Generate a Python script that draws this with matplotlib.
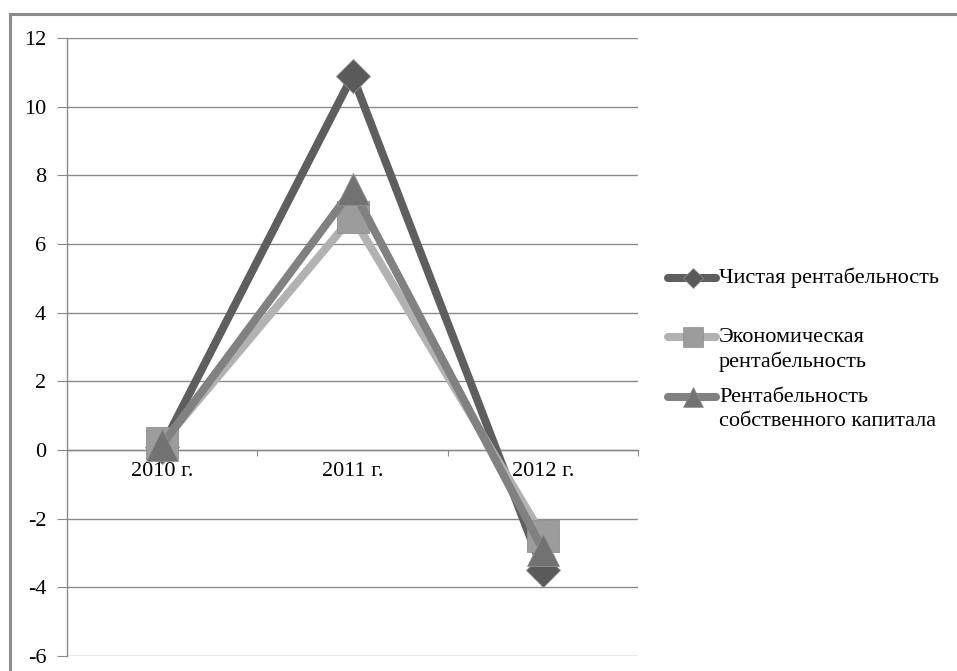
import matplotlib
matplotlib.use("Agg")
import matplotlib.pyplot as plt
import numpy as np
from matplotlib.lines import Line2D

years = ["2010 г.", "2011 г.", "2012 г."]
series_names = [
    "Чистая рентабельность",
    "Экономическая\nрентабельность",
    "Рентабельность\nсобственного капитала",
]
net_margin = [0.1, 10.9, -3.5]
economic_return = [0.2, 6.8, -2.5]
equity_return = [0.15, 7.6, -2.9]

y_ticks = np.arange(-6, 13, 2)

plt.rcParams["font.family"] = ["Liberation Serif", "DejaVu Serif"]
FS = 16

W, H = 957, 671
fig = plt.figure(figsize=(W / 100, H / 100), dpi=100)
ax = fig.add_axes([67 / W, 1 - 656 / H, (638 - 67) / W, (656 - 38) / H])

grid_c = "#8a8a8a"
styles = [
    dict(line="#5e5e5e", face="#5a5a5a", marker="D", ms=17),
    dict(line="#b2b2b2", face="#9c9c9c", marker="s", ms=23),
    dict(line="#818181", face="#727272", marker="^", ms=23),
]
all_values = [net_margin, economic_return, equity_return]

x = np.arange(len(years))
for vals, st in zip(all_values, styles):
    ax.plot(x, vals, color=st["line"], linewidth=5.8, solid_capstyle="butt",
            marker=st["marker"], markersize=st["ms"], markerfacecolor=st["face"],
            markeredgecolor="#8f8f8f", markeredgewidth=0.6, zorder=3)

ax.set_xlim(-0.5, len(years) - 0.5)
ax.set_ylim(-6, 12)
ax.set_yticks(y_ticks)
ax.set_yticklabels([f"{v:d}" for v in y_ticks], fontsize=FS)
ax.yaxis.grid(True, color=grid_c, linewidth=1.0)
ax.set_axisbelow(True)

for s in ("top", "right"):
    ax.spines[s].set_visible(False)
ax.spines["left"].set_color(grid_c)
ax.spines["left"].set_linewidth(1.0)
ax.spines["bottom"].set_position(("data", 0))
ax.spines["bottom"].set_color(grid_c)
ax.spines["bottom"].set_linewidth(1.0)

ax.tick_params(axis="y", length=7, color=grid_c, pad=8)
ax.set_xticks(np.arange(len(years) + 1) - 0.5)
ax.set_xticklabels([])
ax.tick_params(axis="x", which="major", length=4, color=grid_c, direction="out")
ax.set_xticks(x, minor=True)
ax.set_xticklabels(years, minor=True, fontsize=FS)
ax.tick_params(axis="x", which="minor", length=0, pad=9)

# legend drawn by hand so the handle sits on the first text line
leg_rows = [278, 337, 397]
for name, st, yr in zip(series_names, styles, leg_rows):
    yf = 1 - yr / H
    fig.add_artist(Line2D([668 / W, 716 / W], [yf, yf], color=st["line"], linewidth=5.8,
                          solid_capstyle="round"))
    fig.add_artist(Line2D([693 / W], [yf], marker=st["marker"],
                          markersize=st["ms"] * 0.6, markerfacecolor=st["face"],
                          markeredgecolor="#8f8f8f", markeredgewidth=0.5, linestyle="none"))
    for i, line in enumerate(name.split("\n")):
        fig.text(719 / W, 1 - (yr + i * 25) / H, line, fontsize=FS, ha="left", va="center")

# chart frame (only left and top edges are visible in the crop)
fig.add_artist(Line2D([10 / W, 10 / W], [0, 1 - 14 / H], color="#8c8c8c", linewidth=2.2))
fig.add_artist(Line2D([10 / W, 1], [1 - 14 / H, 1 - 14 / H], color="#8c8c8c", linewidth=2.2))

fig.savefig("out.png", dpi=100)
